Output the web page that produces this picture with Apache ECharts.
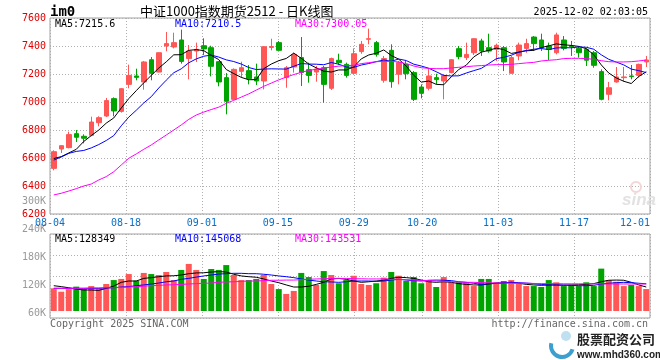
<!DOCTYPE html>
<html><head><meta charset="utf-8">
<script src="https://cdn.jsdelivr.net/npm/echarts@6/dist/echarts.min.js"></script>
<style>html,body{margin:0;padding:0;background:#fff}#c{width:660px;height:360px}</style>
</head><body><div id="c"></div>
<script>
const dates = ['08-04','08-05','08-06','08-07','08-08','08-11','08-12','08-13','08-14','08-15','08-18','08-19','08-20','08-21','08-22','08-25','08-26','08-27','08-28','08-29','09-01','09-02','09-03','09-04','09-05','09-08','09-09','09-10','09-11','09-12','09-15','09-16','09-17','09-18','09-19','09-22','09-23','09-24','09-25','09-26','09-29','09-30','10-09','10-10','10-13','10-14','10-15','10-16','10-17','10-20','10-21','10-22','10-23','10-24','10-27','10-28','10-29','10-30','10-31','11-03','11-04','11-05','11-06','11-07','11-10','11-11','11-12','11-13','11-14','11-17','11-18','11-19','11-20','11-21','11-24','11-25','11-26','11-27','11-28','12-01'];
const labelDates = ['08-04','08-18','09-01','09-15','09-29','10-20','11-03','11-17','12-01'];

const openP  = [6526,6664,6674,6774,6755,6762,6852,6900,7024,6933,7126,7186,7143,7302,7214,7400,7393,7443,7310,7364,7402,7388,7288,7174,7019,7219,7224,7179,7150,7390,7424,7174,7250,7317,7231,7214,7245,7098,7298,7269,7205,7360,7448,7424,7155,7369,7198,7269,7210,7107,7098,7174,7150,7210,7381,7317,7352,7436,7388,7376,7388,7205,7329,7383,7464,7443,7400,7352,7443,7400,7383,7376,7352,7217,7055,7143,7174,7186,7190,7286];
const closeP = [6645,6688,6767,6748,6741,6857,6888,7010,6936,7095,7190,7176,7286,7205,7352,7417,7424,7290,7364,7376,7379,7255,7143,7005,7233,7245,7167,7150,7395,7396,7369,7245,7340,7210,7190,7236,7126,7310,7281,7190,7345,7412,7452,7340,7310,7145,7281,7202,7019,7062,7186,7160,7190,7302,7324,7340,7452,7364,7364,7405,7286,7317,7407,7417,7417,7388,7376,7479,7383,7395,7352,7298,7262,7019,7102,7179,7179,7181,7269,7300];
const lowP   = [6512,6636,6669,6714,6705,6755,6826,6893,6898,6924,7098,7155,7088,7155,7212,7362,7383,7274,7162,7286,7336,7183,7112,6912,7014,7174,7126,7121,7090,7369,7367,7102,7210,7114,7138,7145,6995,7086,7264,7174,7198,7345,7412,7324,7138,7102,7126,7162,7007,7026,7083,7126,7019,7205,7305,7300,7336,7329,7352,7293,7221,7205,7298,7352,7364,7364,7298,7340,7369,7329,7317,7257,7245,7012,7012,7138,7145,7162,7174,7250];
const highP  = [6655,6690,6788,6800,6769,6895,6898,7029,7033,7098,7267,7238,7293,7321,7352,7500,7495,7517,7407,7424,7455,7402,7293,7207,7240,7288,7264,7274,7397,7452,7436,7257,7352,7464,7281,7257,7257,7317,7345,7281,7383,7436,7524,7436,7329,7412,7293,7293,7221,7126,7240,7202,7198,7305,7400,7424,7455,7452,7488,7417,7400,7329,7424,7452,7471,7488,7424,7495,7471,7436,7400,7383,7364,7233,7143,7250,7250,7264,7274,7329];

const ma5  = [6596,6610,6636,6662,6718,6760,6800,6849,6886,6957,7024,7081,7137,7190,7242,7287,7337,7338,7369,7374,7367,7333,7303,7232,7203,7176,7159,7160,7238,7271,7295,7311,7349,7312,7271,7244,7220,7214,7229,7229,7250,7308,7336,7348,7372,7332,7306,7256,7191,7142,7150,7126,7123,7180,7232,7263,7322,7356,7369,7385,7374,7347,7356,7366,7369,7389,7401,7415,7409,7404,7397,7381,7338,7265,7207,7172,7148,7132,7182,7216];
const ma10 = [6585,6607,6633,6647,6654,6672,6696,6725,6760,6830,6892,6941,6993,7038,7100,7156,7209,7237,7280,7308,7327,7335,7321,7301,7289,7271,7246,7232,7235,7237,7236,7235,7255,7275,7271,7270,7266,7282,7270,7250,7247,7264,7275,7288,7300,7291,7307,7296,7270,7257,7241,7216,7190,7186,7187,7207,7224,7240,7274,7309,7319,7334,7356,7368,7377,7382,7374,7386,7388,7387,7393,7391,7377,7337,7305,7285,7265,7235,7224,7210];
const ma30 = [6336,6348,6364,6381,6400,6414,6443,6467,6502,6550,6598,6629,6662,6693,6729,6764,6800,6836,6876,6907,6928,6946,6963,6990,7012,7035,7058,7085,7112,7135,7158,7178,7196,7212,7225,7234,7242,7250,7256,7260,7262,7274,7281,7288,7290,7290,7286,7274,7257,7245,7240,7238,7238,7243,7248,7252,7257,7260,7264,7267,7267,7269,7274,7279,7283,7293,7298,7302,7310,7312,7312,7310,7305,7295,7288,7286,7286,7288,7293,7300];

const volume = [121,103,117,130,117,133,121,144,165,171,197,162,203,197,192,208,165,219,251,219,171,224,219,245,192,165,165,171,192,144,117,91,107,203,181,139,213,192,148,165,188,144,139,148,178,208,188,160,181,148,165,128,181,153,153,153,133,171,171,153,160,165,144,133,133,128,165,153,133,139,133,153,133,226,165,156,133,139,133,117].map(v => v * 1000);
const volMa5  = [135,130,124,117,112,112,110,121,133,153,160,160,174,178,183,187,188,192,199,203,204,208,210,208,196,187,183,180,171,160,151,139,128,128,132,142,153,171,174,169,160,153,156,160,164,174,180,178,174,165,156,153,156,153,146,142,139,139,144,148,149,153,148,142,139,137,139,139,137,139,140,142,146,156,164,165,164,153,139,128].map(v => v * 1000);
const volMa10 = [121,121,121,121,121,121,121,123,124,128,130,135,139,144,149,156,160,169,174,181,187,192,197,199,201,201,199,199,196,192,187,183,178,171,165,160,156,155,153,156,160,160,160,158,160,165,169,165,162,160,164,165,164,162,156,153,148,142,146,148,151,153,151,149,146,142,139,139,139,137,135,135,137,144,148,151,153,151,148,145].map(v => v * 1000);
const volMa30 = [121,121,121,121,121,123,123,124,124,126,128,130,132,135,137,139,140,142,144,146,148,149,153,155,156,158,160,160,162,164,164,165,165,167,169,171,172,174,174,174,172,172,171,171,171,169,169,167,165,164,162,160,158,156,155,153,153,151,151,149,149,148,148,148,147,146,146,146,145,145,145,145,145,145,144,144,144,144,144,144].map(v => v * 1000);

const priceMin = 6200, priceMax = 7600, priceStep = 200;
const volLabelMin = 60000, volLabelMax = 300000, volLabelStep = 60000;

const headerCode = 'im0';
const headerTitle = '中证1000指数期货2512 - 日K线图';
const headerTime = '2025-12-02 02:03:05';
const priceLegend = ['MA5:7215.6', 'MA10:7210.5', 'MA30:7300.05'];
const volLegend = ['MA5:128349', 'MA10:145068', 'MA30:143531'];

const MONO = '"DejaVu Sans Mono","Liberation Mono",monospace';
const RED = '#ff5656', GREEN = '#00a400';
const dotted = { show: true, lineStyle: { color: '#b0b0b0', type: [1, 2], width: 1 } };
const showLabel = (idx, val) => labelDates.indexOf(val) >= 0;
const legendColors = ['#000000', '#0000ff', '#ff00ff'];

const chart = echarts.init(document.getElementById('c'), null, { renderer: 'canvas' });

function maLine(name, data, color, xi, yi) {
  return { name, type: 'line', data, xAxisIndex: xi, yAxisIndex: yi, symbol: 'none', silent: true,
    lineStyle: { color, width: 1 }, z: 5 };
}

const texts = [];
function txt(text, x, y, font, fill, align) {
  texts.push({ type: 'text', silent: true, z: 100, style: { text, x, y, font, fill, textAlign: align || 'left', textVerticalAlign: 'middle' } });
}
txt(headerCode, 50, 12, 'bold 14px ' + MONO, '#000');
txt(headerTitle, 140, 11, '13px "Noto Sans CJK SC"', '#000');
txt(headerTime, 648, 12, '10px ' + MONO, '#000', 'right');
[55, 175, 295].forEach((x, k) => {
  txt(priceLegend[k], x, 24, '10px ' + MONO, legendColors[k]);
  txt(volLegend[k], x, 239, '10px ' + MONO, legendColors[k]);
});
txt('Copyright 2025 SINA.COM', 50, 324, '10px ' + MONO, '#666');
txt('http://finance.sina.com.cn', 648, 324, '10px ' + MONO, '#666', 'right');
txt('股票配资公司', 577, 339, 'bold 13px "Noto Sans CJK SC"', '#222');
txt('www.mhd360.com', 577, 355, 'bold 10px "Liberation Sans"', '#222');
txt('sina', 622, 200, 'italic bold 17px "Liberation Sans"', '#e2e2e2');
texts.push({ type: 'arc', silent: true, z: 99, shape: { cx: 562, cy: 346, r: 11, startAngle: 0.3, endAngle: 3.4 }, style: { stroke: '#3b9fd0', lineWidth: 4, fill: null } });
texts.push({ type: 'circle', silent: true, z: 99, shape: { cx: 566, cy: 336, r: 5 }, style: { fill: '#bfe0f0' } });
texts.push({ type: 'circle', silent: true, z: 99, shape: { cx: 636, cy: 187, r: 5 }, style: { stroke: '#f3d6d6', lineWidth: 2, fill: null } });

const option = {
  animation: false,
  backgroundColor: '#ffffff',
  grid: [
    { left: 50, top: 18, width: 600, height: 196, show: true, borderColor: '#a0a0a0', borderWidth: 1 },
    { left: 50, top: 234, width: 600, height: 77, show: false },
    { left: 50, top: 201, width: 600, height: 112, show: false },
    { left: 50, top: 234, width: 600, height: 84, show: true, borderColor: '#a0a0a0', borderWidth: 1 }
  ],
  xAxis: [
    { type: 'category', gridIndex: 0, data: dates, boundaryGap: true, show: false, position: 'bottom' },
    { type: 'category', gridIndex: 0, data: dates, boundaryGap: false, position: 'bottom',
      axisLine: { show: false }, axisTick: { show: false },
      axisLabel: { interval: showLabel, color: '#0a6fc8', fontFamily: MONO, fontSize: 10, margin: 4, alignMaxLabel: 'right' },
      splitLine: Object.assign({ interval: showLabel }, dotted) },
    { type: 'category', gridIndex: 1, data: dates, boundaryGap: true, show: false, position: 'bottom' },
    { type: 'category', gridIndex: 3, data: dates, boundaryGap: false, position: 'bottom',
      axisLine: { show: false }, axisTick: { show: false }, axisLabel: { show: false },
      splitLine: Object.assign({ interval: showLabel }, dotted) },
    { type: 'category', gridIndex: 2, data: dates, show: false }
  ],
  yAxis: [
    { type: 'value', gridIndex: 0, min: priceMin, max: priceMax, interval: priceStep,
      axisLine: { show: false }, axisTick: { show: false },
      axisLabel: { color: '#e00000', fontFamily: MONO, fontSize: 10, margin: 4, formatter: v => String(v) },
      splitLine: dotted },
    { type: 'value', gridIndex: 1, min: 0, max: 410667, show: false, splitLine: { show: false } },
    { type: 'value', gridIndex: 3, min: 0, max: 4, interval: 1,
      axisLine: { show: false }, axisTick: { show: false }, axisLabel: { show: false }, splitLine: dotted },
    { type: 'value', gridIndex: 2, min: volLabelMin, max: volLabelMax, interval: volLabelStep,
      axisLine: { show: false }, axisTick: { show: false }, splitLine: { show: false },
      axisLabel: { color: '#999', fontFamily: MONO, fontSize: 10, margin: 4, formatter: v => (v / 1000) + 'K' } }
  ],
  series: [
    { type: 'candlestick', xAxisIndex: 0, yAxisIndex: 0, barWidth: 5, silent: true,
      data: dates.map((d, i) => [openP[i], closeP[i], lowP[i], highP[i]]),
      itemStyle: { color: RED, color0: GREEN, borderColor: RED, borderColor0: GREEN, borderWidth: 1 } },
    maLine('MA5', ma5, '#000000', 0, 0),
    maLine('MA10', ma10, '#0000ff', 0, 0),
    maLine('MA30', ma30, '#ff00ff', 0, 0),
    { type: 'bar', xAxisIndex: 2, yAxisIndex: 1, barWidth: 6, silent: true,
      data: volume.map((v, i) => ({ value: v, itemStyle: { color: closeP[i] >= openP[i] ? RED : GREEN } })) },
    maLine('VMA5', volMa5, '#000000', 2, 1),
    maLine('VMA10', volMa10, '#0000ff', 2, 1),
    maLine('VMA30', volMa30, '#ff00ff', 2, 1)
  ],
  graphic: texts
};
chart.setOption(option);
</script>
</body></html>
